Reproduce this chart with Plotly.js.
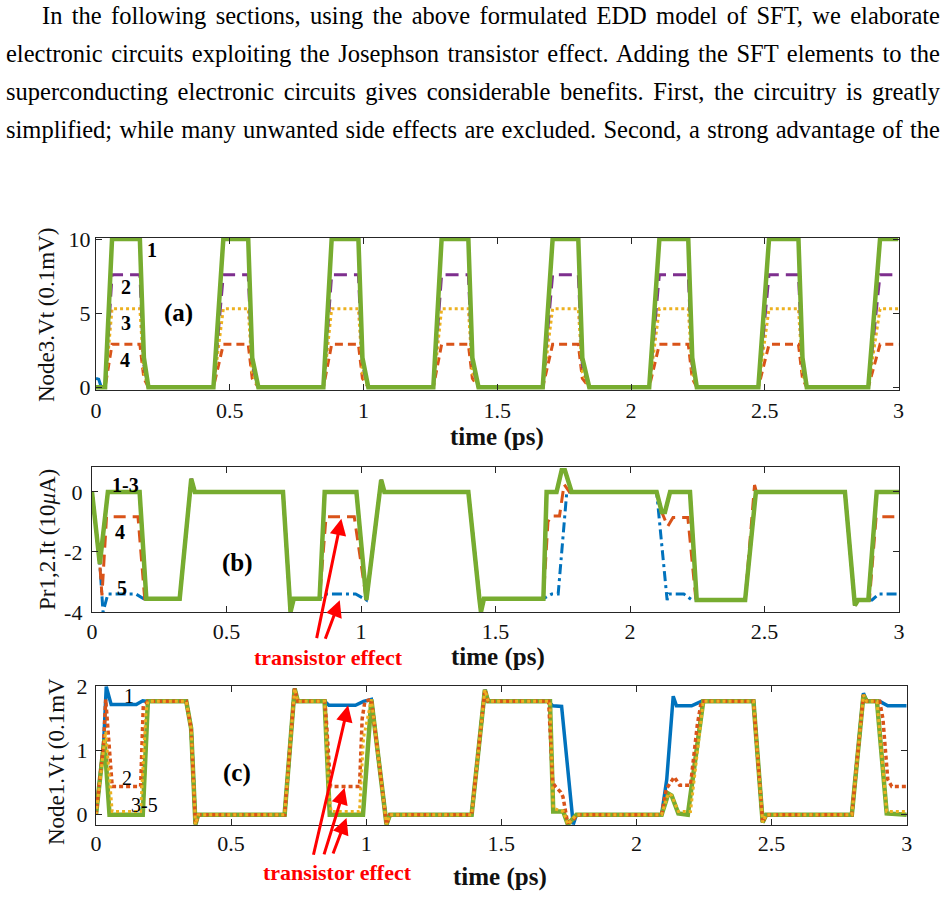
<!DOCTYPE html>
<html>
<head>
<meta charset="utf-8">
<script src="https://cdn.plot.ly/plotly-3.0.1.min.js"></script>
<style>
  html, body { margin: 0; padding: 0; background: #fff; }
  #page { position: relative; width: 948px; height: 910px; overflow: hidden; }
  #plot { position: absolute; left: 0; top: 0; width: 948px; height: 910px; }
  #para { position: absolute; left: 6px; top: -3px; width: 934px; z-index: 2;
          font-family: "Liberation Serif", "Times New Roman", serif; font-size: 24.5px;
          line-height: 38px; color: #000; }
  #para .ln { text-align: justify; text-align-last: justify; white-space: nowrap; }
</style>
</head>
<body>
<div id="page">
  <div id="plot"></div>
  <div id="para">
    <div class="ln" style="padding-left:36px">In the following sections, using the above formulated EDD model of SFT, we elaborate</div>
    <div class="ln">electronic circuits exploiting the Josephson transistor effect. Adding the SFT elements to the</div>
    <div class="ln">superconducting electronic circuits gives considerable benefits. First, the circuitry is greatly</div>
    <div class="ln">simplified; while many unwanted side effects are excluded. Second, a strong advantage of the</div>
  </div>
</div>
<script>
// ---------- panel (a): Node3.Vt (0.1 mV) ----------
const tA = [0,
  0.034, 0.060, 0.164, 0.179, 0.196,
  0.439, 0.476, 0.569, 0.584, 0.607,
  0.850, 0.881, 0.981, 0.996, 1.018,
  1.261, 1.292, 1.392, 1.407, 1.430,
  1.670, 1.707, 1.803, 1.818, 1.844,
  2.068, 2.106, 2.214, 2.229, 2.246,
  2.476, 2.516, 2.626, 2.641, 2.657,
  2.887, 2.931, 3.000];
const a1 = [0, 0,10,10,2,0, 0,10,10,2,0, 0,10,10,2,0, 0,10,10,2,0, 0,10,10,2,0, 0,10,10,2,0, 0,10,10,2,0, 0,10,10];
const a2 = [0, 0,7.6,7.6,1.5,0, 0,7.6,7.6,1.5,0, 0,7.6,7.6,1.5,0, 0,7.6,7.6,1.5,0, 0,7.6,7.6,1.5,0, 0,7.6,7.6,1.5,0, 0,7.6,7.6,1.5,0, 0,7.6,7.6];
const a3 = [0, 0,5.3,5.3,1,0, 0,5.3,5.3,1,0, 0,5.3,5.3,1,0, 0,5.3,5.3,1,0, 0,5.3,5.3,1,0, 0,5.3,5.3,1,0, 0,5.3,5.3,1,0, 0,5.3,5.3];
const a4 = [0, 0,2.9,2.9,0.6,0, 0,2.9,2.9,0.6,0, 0,2.9,2.9,0.6,0, 0,2.9,2.9,0.6,0, 0,2.9,2.9,0.6,0, 0,2.9,2.9,0.6,0, 0,2.9,2.9,0.6,0, 0,2.9,2.9];
const tA5 = [0, 0.010, 0.020];
const a5 = [0.6, 0.55, 0];

// ---------- panel (b): Pr1,2.It (10 uA) ----------
const tB1 = [0, 0.029, 0.059, 0.177, 0.202, 0.326, 0.369, 0.382, 0.710, 0.738, 0.750, 0.846, 0.865, 0.983,
  1.020, 1.075, 1.087, 1.399, 1.440, 1.446, 1.457, 1.678, 1.690, 1.727, 1.746, 1.758, 1.783,
  2.099, 2.118, 2.130, 2.149, 2.223, 2.248, 2.428, 2.468, 2.799, 2.836, 2.848, 2.886, 2.917, 3.000];
const b1 = [0, -2.4, 0, 0, -3.56, -3.56, 0.44, 0, 0, -4.0, -3.56, -3.56, 0, 0,
  -3.6, 0.4, 0, 0, -3.56, -4.0, -3.56, -3.56, 0, 0, 0.72, 0.72, 0,
  0, -0.67, -0.67, 0, 0, -3.6, -3.6, 0, 0, -3.78, -3.6, -3.6, 0, 0];
const tB4 = [0, 0.029, 0.037, 0.054, 0.171, 0.196, 0.326, 0.369, 0.382, 0.710, 0.738, 0.750, 0.846, 0.870, 0.975,
  1.020, 1.075, 1.087, 1.399, 1.440, 1.446, 1.457, 1.678, 1.695, 1.705, 1.738, 1.755, 1.775,
  2.099, 2.118, 2.140, 2.160, 2.215, 2.245, 2.428, 2.463, 2.470, 2.799, 2.836, 2.848, 2.890, 2.915, 3.000];
const b4 = [0, -2.4, -3.45, -0.83, -0.83, -3.56, -3.56, 0.44, 0, 0, -4.0, -3.56, -3.56, -0.83, -0.83,
  -3.6, 0.4, 0, 0, -3.56, -4.0, -3.56, -3.56, -1.0, -0.8, -0.8, 0.25, 0,
  0, -0.67, -1.15, -0.85, -0.85, -3.6, -3.6, 0.23, 0, 0, -3.78, -3.6, -3.6, -0.83, -0.83];
const tB5 = [0, 0.029, 0.041, 0.059, 0.163, 0.192, 0.326, 0.369, 0.382, 0.710, 0.738, 0.750, 0.846, 0.865, 0.980,
  1.020, 1.075, 1.087, 1.399, 1.440, 1.446, 1.457, 1.678, 1.709, 1.733, 1.765,
  2.099, 2.138, 2.145, 2.200, 2.230, 2.428, 2.468, 2.799, 2.836, 2.848, 2.900, 2.925, 3.000];
const b5 = [0, -2.4, -4.0, -3.4, -3.4, -3.56, -3.56, 0.44, 0, 0, -4.0, -3.56, -3.56, -3.4, -3.4,
  -3.6, 0.4, 0, 0, -3.56, -4.0, -3.56, -3.56, -3.4, -3.4, 0,
  0, -3.6, -3.4, -3.4, -3.6, -3.6, 0, 0, -3.78, -3.6, -3.6, -3.4, -3.4];

// ---------- panel (c): Node1.Vt (0.1 mV) ----------
const tC5 = [0, 0.031, 0.050, 0.173, 0.192, 0.334, 0.352, 0.368, 0.378, 0.698, 0.735, 0.747, 0.846, 0.865, 0.988,
  1.019, 1.075, 1.088, 1.390, 1.439, 1.451, 1.680, 1.692, 1.729, 1.746, 1.778,
  2.093, 2.118, 2.130, 2.155, 2.190, 2.247, 2.433, 2.467, 2.480, 2.797, 2.840, 2.852, 2.890, 2.926, 3.000];
const c5 = [0, 1.18, 0, 0, 1.77, 1.77, 1.35, -0.15, 0, 0, 1.97, 1.77, 1.77, 0, 0,
  1.8, -0.15, 0, 0, 1.95, 1.77, 1.77, 0.05, 0.05, -0.15, 0,
  0, 0.33, 0.3, 0.02, 0, 1.77, 1.77, -0.12, 0, 0, 1.87, 1.77, 1.77, 0.02, 0];
const tC3 = [0, 0.031, 0.036, 0.060, 0.165, 0.185, 0.192, 0.334, 0.352, 0.368, 0.378, 0.698, 0.735, 0.747, 0.846,
  0.862, 0.870, 0.975, 0.990, 1.019, 1.075, 1.088, 1.390, 1.439, 1.451, 1.680, 1.692, 1.730, 1.746, 1.778,
  2.093, 2.118, 2.130, 2.155, 2.200, 2.247, 2.433, 2.467, 2.480, 2.797, 2.840, 2.852, 2.890, 2.926, 3.000];
const c3 = [0, 1.2, 1.3, 0.05, 0.05, 1.6, 1.77, 1.77, 1.35, -0.15, 0, 0, 1.97, 1.77, 1.77,
  0.3, 0.05, 0.05, 1.2, 1.8, -0.15, 0, 0, 1.95, 1.77, 1.77, 0.1, 0.05, -0.15, 0,
  0, 0.33, 0.3, 0.05, 0.05, 1.77, 1.77, -0.12, 0, 0, 1.87, 1.77, 1.77, 0.05, 0.05];
const tC2 = [0, 0.028, 0.036, 0.042, 0.060, 0.165, 0.175, 0.192, 0.334, 0.352, 0.368, 0.378, 0.698, 0.735, 0.747, 0.846,
  0.852, 0.868, 0.975, 0.985, 0.995, 1.019, 1.075, 1.088, 1.390, 1.439, 1.451, 1.675, 1.690, 1.700, 1.720, 1.728, 1.745, 1.765, 1.778,
  2.093, 2.110, 2.140, 2.160, 2.200, 2.225, 2.240, 2.433, 2.467, 2.480, 2.797, 2.840, 2.852, 2.900, 2.912, 2.930, 2.945, 3.000];
const c2 = [0, 1.1, 1.8, 1.5, 0.44, 0.44, 1.7, 1.77, 1.77, 1.35, -0.15, 0, 0, 1.97, 1.77, 1.77,
  1.5, 0.44, 0.44, 1.5, 1.77, 1.8, -0.15, 0, 0, 1.95, 1.77, 1.77, 0.5, 0.44, 0.35, 0.28, -0.12, -0.1, 0,
  0, 0.4, 0.59, 0.46, 0.46, 1.4, 1.77, 1.77, -0.12, 0, 0, 1.87, 1.77, 1.77, 1.5, 0.55, 0.44, 0.44];
const tC1 = [0, 0.028, 0.038, 0.056, 0.149, 0.173, 0.192, 0.334, 0.352, 0.368, 0.378, 0.698, 0.735, 0.747, 0.846,
  0.862, 0.960, 0.990, 1.019, 1.075, 1.088, 1.390, 1.439, 1.451, 1.673, 1.690, 1.723, 1.766, 1.778,
  2.093, 2.112, 2.136, 2.148, 2.204, 2.241, 2.433, 2.467, 2.480, 2.797, 2.840, 2.852, 2.900, 2.930, 3.000];
const c1 = [0, 1.1, 2.0, 1.72, 1.72, 1.78, 1.77, 1.77, 1.35, -0.15, 0, 0, 1.97, 1.77, 1.77,
  1.71, 1.71, 1.77, 1.8, -0.15, 0, 0, 1.95, 1.77, 1.77, 1.7, 1.69, -0.15, 0,
  0, 0.55, 1.85, 1.7, 1.7, 1.77, 1.77, -0.12, 0, 0, 1.9, 1.77, 1.77, 1.7, 1.7];

const xTicks = [0, 0.5, 1, 1.5, 2, 2.5, 3];
const xTickText = ['0', '0.5', '1', '1.5', '2', '2.5', '3'];

const C = { blue: '#0072BD', orange: '#D95319', yellow: '#EDB120', purple: '#7E2F8E', green: '#77AC30' };

function line(x, y, ax, color, width, dash) {
  return { x: x, y: y, xaxis: 'x' + ax, yaxis: 'y' + ax, type: 'scatter', mode: 'lines',
           line: { color: color, width: width, dash: dash || 'solid' }, hoverinfo: 'skip' };
}

const traces = [
  // (a)
  line(tA, a4, '', C.orange, 3, '8px,5px'),
  line(tA, a3, '', C.yellow, 3, '3px,3px'),
  line(tA, a2, '', C.purple, 3, '13px,7px'),
  line(tA5, a5, '', C.blue, 3),
  line(tA, a1, '', C.green, 4.5),
  // (b)
  line(tB5, b5, '2', C.blue, 3, '10px,4px,3px,4px'),
  line(tB4, b4, '2', C.orange, 3, '12px,7px'),
  line(tB1, b1, '2', C.yellow, 3, '3px,3px'),
  line(tB1, b1, '2', C.purple, 3),
  line(tB1, b1, '2', C.green, 4.5),
  // (c)
  line(tC1, c1, '3', C.blue, 3.5),
  line(tC5, c5, '3', C.purple, 3),
  line(tC5, c5, '3', C.green, 4.5),
  line(tC2, c2, '3', C.orange, 3.5, '4px,3px'),
  line(tC3, c3, '3', C.yellow, 3, '3px,3px')
];

const W = 948, H = 910;
const px = v => v / W;
const py = v => 1 - v / H;
const serif = 'Liberation Serif, Times New Roman, serif';

function xax(l, r, anchor, standoff) {
  return { domain: [px(l), px(r)], range: [0, 3], anchor: anchor, tickmode: 'array', tickvals: xTicks, ticktext: xTickText,
           ticks: 'inside', ticklen: 6, tickwidth: 1, tickcolor: '#262626', showline: true, linecolor: '#262626',
           linewidth: 1.2, mirror: 'ticks', showgrid: false, zeroline: false, ticklabelstandoff: standoff,
           tickfont: { family: serif, size: 22, color: '#111' } };
}
function yax(t, b, range, vals, text, anchor, standoff) {
  return { domain: [py(b), py(t)], range: range, tickmode: 'array', tickvals: vals, ticktext: text, anchor: anchor,
           ticks: 'inside', ticklen: 6, tickwidth: 1, tickcolor: '#262626', showline: true, linecolor: '#262626',
           linewidth: 1.2, mirror: 'ticks', showgrid: false, zeroline: false, ticklabelstandoff: standoff,
           tickfont: { family: serif, size: 22, color: '#111' } };
}

function label(text, x, y, size, bold, color, angle) {
  return { xref: 'paper', yref: 'paper', x: px(x), y: py(y), xanchor: 'center', yanchor: 'middle',
           text: bold ? '<b>' + text + '</b>' : text, showarrow: false, textangle: angle || 0,
           font: { family: serif, size: size, color: color || '#000' } };
}
function arrow(ax, x, y, dx, dy) {
  return { xref: 'x' + ax, yref: 'y' + ax, x: x, y: y, ax: dx, ay: dy, text: '', showarrow: true,
           arrowhead: 2, arrowsize: 1.1, arrowwidth: 3, arrowcolor: '#FF0000' };
}

const layout = {
  width: W, height: H, margin: { l: 0, r: 0, t: 0, b: 0 },
  paper_bgcolor: '#fff', plot_bgcolor: '#fff', showlegend: false,
  xaxis: xax(96, 898.5, 'y', 0),
  yaxis: yax(238, 390, [-0.18, 10.07], [0, 5, 10], ['0', '5', '10'], 'x', 0),
  xaxis2: xax(92, 899, 'y2', -1),
  yaxis2: yax(467, 612, [-4, 0.83], [-4, -2, 0], ['-4', '-2', '0'], 'x2', 4),
  xaxis3: xax(96, 906.7, 'y3', -2),
  yaxis3: yax(686, 825, [-0.16, 2.01], [0, 1, 2], ['0', '1', '2'], 'x3', 3),
  annotations: [
    // axis titles
    label('Node3.Vt (0.1mV)', 46, 315, 23, false, '#111', -90),
    label('time (ps)', 497, 437, 25, true, '#111'),
    label('Pr1,2.It (10<i>μ</i>A)', 47, 540, 23, false, '#111', -90),
    label('time (ps)', 498, 657, 25, true, '#111'),
    label('Node1.Vt (0.1mV', 56, 762, 23, false, '#111', -90),
    label('time (ps)', 500, 877, 25, true, '#111'),
    // panel tags
    label('(a)', 178, 313, 25, true),
    label('(b)', 237, 563, 25, true),
    label('(c)', 237, 773, 25, true),
    // curve numbers
    label('1', 152, 250, 20, true),
    label('2', 126, 287, 20, true),
    label('3', 126, 323, 20, true),
    label('4', 125, 360, 20, true),
    label('1-3', 125, 485, 20, true),
    label('4', 120, 532, 20, true),
    label('5', 122, 588, 20, true),
    label('1', 129, 696, 20, false),
    label('2', 127, 778, 20, false),
    label('3-5', 144, 805, 20, false),
    // transistor effect callouts
    label('transistor effect', 328, 657, 22, true, '#FF0000'),
    label('transistor effect', 337, 872, 22, true, '#FF0000'),
    arrow('2', 0.927, -0.89, -25, 121),
    arrow('2', 0.921, -3.61, -15, 40),
    arrow('3', 0.933, 1.71, -35, 151),
    arrow('3', 0.92, 0.42, -21, 68),
    arrow('3', 0.927, -0.05, -14, 37)
  ]
};

Plotly.newPlot('plot', traces, layout, { staticPlot: true, displayModeBar: false });
</script>
</body>
</html>
